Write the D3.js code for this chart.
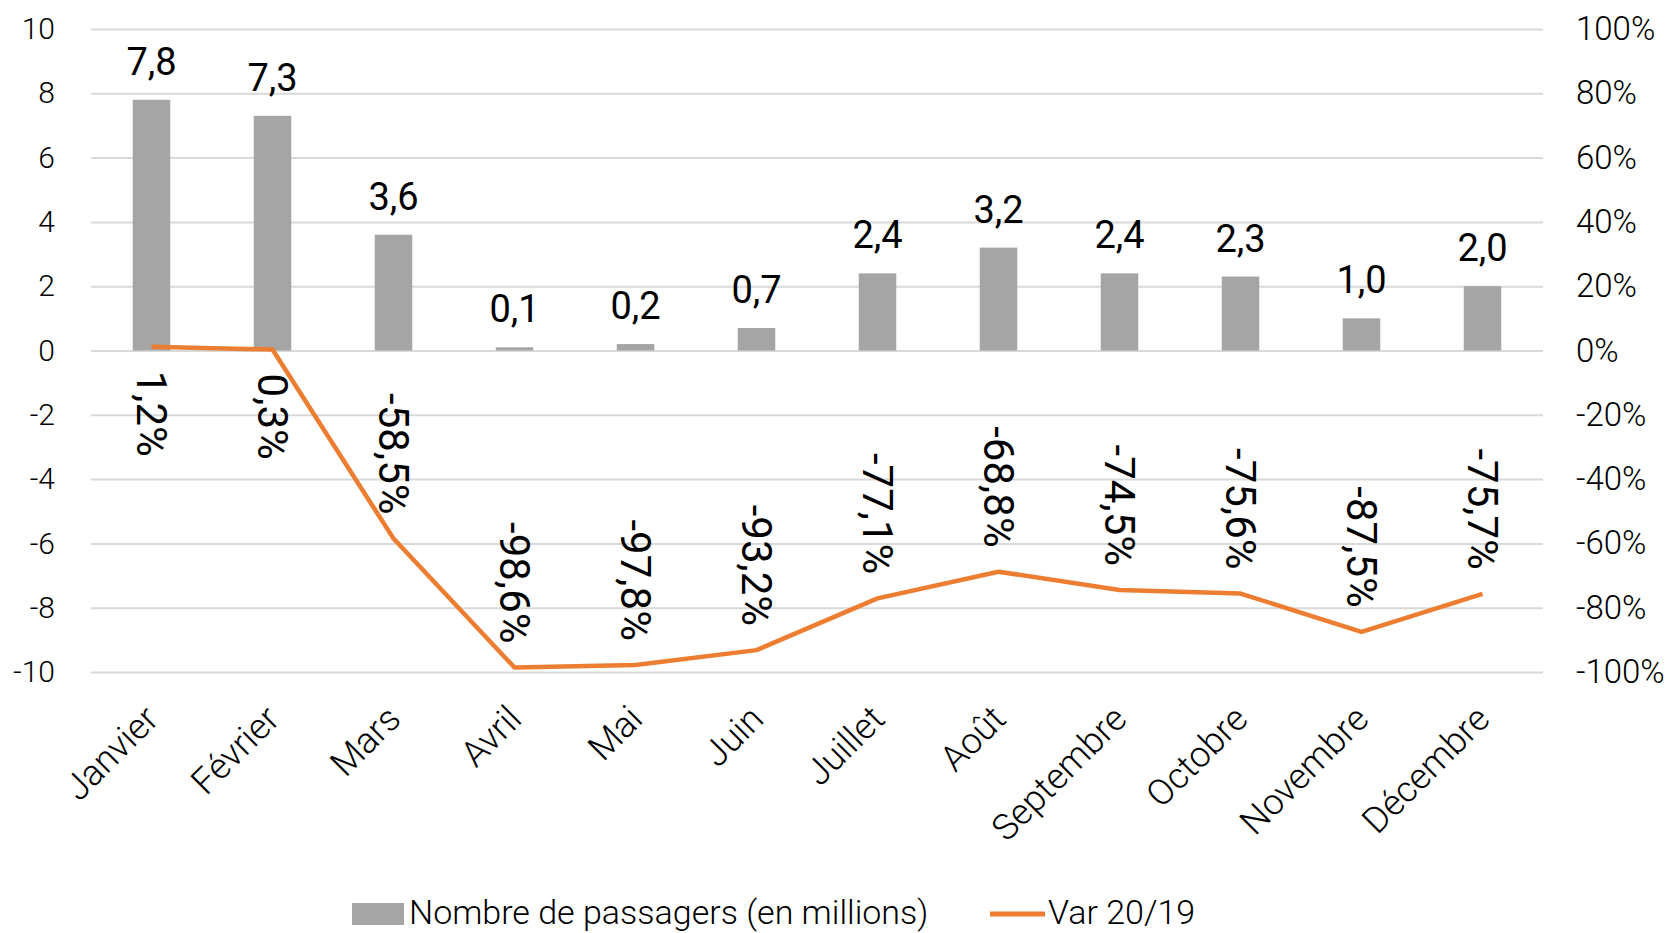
<!DOCTYPE html>
<meta charset="utf-8">
<script src="https://d3js.org/d3.v7.min.js"></script>
<style>
  body { margin: 0; background: #fff; }
  text { font-family: Roboto, "Open Sans", sans-serif; fill: #000; }
</style>
<body>
<div id="my_visual"></div>
<script>

// Data
var months = ["Janvier", "Février", "Mars", "Avril", "Mai", "Juin", "Juillet", "Août", "Septembre", "Octobre", "Novembre", "Décembre"];
var passengers = [7.8, 7.3, 3.6, 0.1, 0.2, 0.7, 2.4, 3.2, 2.4, 2.3, 1.0, 2.0];
var variation = [1.2, 0.3, -58.5, -98.6, -97.8, -93.2, -77.1, -68.8, -74.5, -75.6, -87.5, -75.7];
var leftTicks = [-10, -8, -6, -4, -2, 0, 2, 4, 6, 8, 10];
var rightTicks = [-100, -80, -60, -40, -20, 0, 20, 40, 60, 80, 100];
var legendLabels = ["Nombre de passagers (en millions)", "Var 20/19"];

var W = 1680, H = 933;
var margin = {top: 29, right: 137, bottom: 261, left: 91},
    width = W - margin.left - margin.right,
    height = H - margin.top - margin.bottom;

// french number format, plain hyphen for negatives
var fr = d3.formatLocale({decimal: ",", thousands: " ", grouping: [3], currency: ["", " €"], minus: "-"});
var f1 = fr.format(".1f");
var f0 = fr.format("d");

var svg = d3.select("#my_visual")
  .append("svg")
    .attr("width", W)
    .attr("height", H);

var g = svg.append("g")
    .attr("transform", "translate(" + margin.left + "," + margin.top + ")");

// scales
var x = d3.scaleBand()
    .domain(months)
    .range([0, width])
    .paddingInner(0.69)
    .paddingOuter(0.345);

var y = d3.scaleLinear().domain([-10, 10]).range([height, 0]);
var y2 = d3.scaleLinear().domain([-100, 100]).range([height, 0]);

// gridlines
g.append("g")
    .attr("class", "grid")
    .call(d3.axisLeft(y).tickValues(leftTicks).tickSize(-width).tickFormat(""))
    .call(function(s) {
      s.select(".domain").remove();
      s.selectAll("line").attr("stroke", "#d9d9d9").attr("stroke-width", 2);
    });

// left axis labels
g.append("g")
    .call(d3.axisLeft(y).tickValues(leftTicks).tickSize(0).tickPadding(36).tickFormat(f0))
    .call(function(s) {
      s.select(".domain").remove();
      s.selectAll("text").attr("font-size", 30).attr("font-family", "Roboto").attr("font-weight", 300).attr("fill", "#000");
    });

// right axis labels
g.append("g")
    .attr("transform", "translate(" + width + ",0)")
    .call(d3.axisRight(y2).tickValues(rightTicks).tickSize(0).tickPadding(33).tickFormat(function(d) { return f0(d) + "%"; }))
    .call(function(s) {
      s.select(".domain").remove();
      s.selectAll("text").attr("font-size", 33).attr("font-family", "Roboto").attr("font-weight", 300).attr("fill", "#000");
    });

// bars
g.append("g")
  .selectAll("rect")
  .data(passengers)
  .enter()
  .append("rect")
    .attr("x", function(d, i) { return x(months[i]); })
    .attr("width", x.bandwidth())
    .attr("y", function(d) { return y(d); })
    .attr("height", function(d) { return y(0) - y(d); })
    .attr("fill", "#a5a5a5");

// bar labels
g.append("g")
  .selectAll("text")
  .data(passengers)
  .enter()
  .append("text")
    .attr("x", function(d, i) { return x(months[i]) + x.bandwidth() / 2; })
    .attr("y", function(d) { return y(d) - 25; })
    .attr("text-anchor", "middle")
    .attr("font-size", 38)
    .text(function(d) { return f1(d); });

// variation line
var line = d3.line()
    .x(function(d, i) { return x(months[i]) + x.bandwidth() / 2; })
    .y(function(d) { return y2(d); });

g.append("path")
    .datum(variation)
    .attr("fill", "none")
    .attr("stroke", "#ed7d31")
    .attr("stroke-width", 4.5)
    .attr("stroke-linejoin", "round")
    .attr("d", line);

// variation labels (rotated)
g.append("g")
  .selectAll("text")
  .data(variation)
  .enter()
  .append("text")
    .attr("transform", function(d, i) {
      var cx = x(months[i]) + x.bandwidth() / 2;
      var cy = d >= 0 ? y2(d) + 24 : y2(d) - 24;
      return "translate(" + cx + "," + cy + ") rotate(90)";
    })
    .attr("text-anchor", function(d) { return d >= 0 ? "start" : "end"; })
    .attr("dy", "0.35em")
    .attr("font-size", 42)
    .text(function(d) { return f1(d) + "%"; });

// month labels
g.append("g")
  .selectAll("text")
  .data(months)
  .enter()
  .append("text")
    .attr("transform", function(d) {
      var cx = x(d) + x.bandwidth() / 2 - 9;
      return "translate(" + cx + "," + (height + 31) + ") rotate(-45)";
    })
    .attr("text-anchor", "end")
    .attr("dy", "0.71em")
    .attr("font-size", 36)
    .attr("font-weight", 300)
    .text(function(d) { return d; });

// legend
var legend = svg.append("g");
legend.append("rect")
    .attr("x", 352).attr("y", 903)
    .attr("width", 52).attr("height", 22)
    .attr("fill", "#a5a5a5");
legend.append("text")
    .attr("x", 409).attr("y", 924)
    .attr("font-size", 34)
    .attr("font-weight", 300)
    .text(legendLabels[0]);
legend.append("line")
    .attr("x1", 990).attr("x2", 1045)
    .attr("y1", 914).attr("y2", 914)
    .attr("stroke", "#ed7d31")
    .attr("stroke-width", 5);
legend.append("text")
    .attr("x", 1048).attr("y", 924)
    .attr("font-size", 34)
    .attr("font-weight", 300)
    .text(legendLabels[1]);

</script>
</body>
</html>
